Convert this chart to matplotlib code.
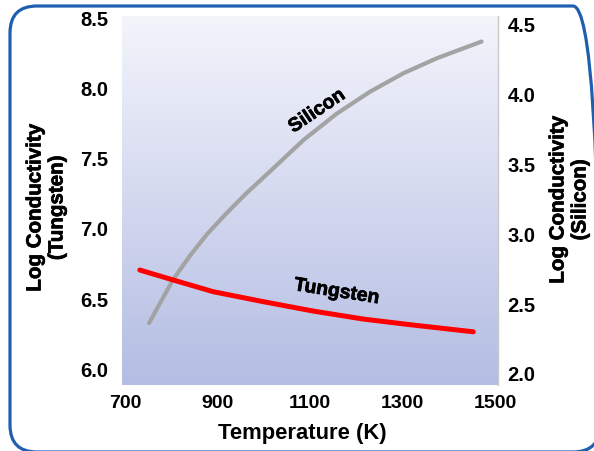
import matplotlib.pyplot as plt
import matplotlib.patheffects as pe
import numpy as np
from matplotlib.patches import FancyBboxPatch
from matplotlib.transforms import IdentityTransform

plt.rcParams["font.family"] = ["Liberation Sans", "DejaVu Sans"]
plt.rcParams["font.weight"] = "bold"

# 读图估计的数据
si_temp = [752, 776, 804, 840, 877, 920, 963, 1013, 1085, 1158, 1230, 1302, 1374, 1471]
si_logc = [2.364, 2.509, 2.676, 2.845, 3.000, 3.153, 3.296, 3.449, 3.673, 3.865,
           4.022, 4.154, 4.261, 4.381]
w_temp = [732, 804, 891, 999, 1107, 1215, 1323, 1453]
w_logc = [6.707, 6.636, 6.552, 6.481, 6.414, 6.357, 6.314, 6.266]

x_ticks = [700, 900, 1100, 1300, 1500]
left_ticks = [6.0, 6.5, 7.0, 7.5, 8.0, 8.5]
right_ticks = [2.0, 2.5, 3.0, 3.5, 4.0, 4.5]

W, H = 594, 451
fig = plt.figure(figsize=(W / 100, H / 100), dpi=100)
fig.patch.set_facecolor("white")

# 圆角边框
frame = FancyBboxPatch((10, H - 452), 590, 446,
                       boxstyle="round,pad=0,rounding_size=27",
                       transform=IdentityTransform(),
                       facecolor="none", edgecolor="#1f5fb0", linewidth=2.3)
fig.add_artist(frame)

ax = fig.add_axes([122 / W, (H - 385) / H, 376 / W, 369 / H])
ax2 = ax.twinx()

# 渐变背景
c_top = np.array([0.955, 0.960, 0.985])
c_bot = np.array([0.705, 0.740, 0.890])
t = np.linspace(0, 1, 256)[:, None]
grad = (c_top * (1 - t) + c_bot * t)[:, None, :]
ax.imshow(grad, extent=[0, 1, 0, 1], transform=ax.transAxes,
          aspect="auto", zorder=0, interpolation="bilinear")

ax.set_xlim(693.5, 1506.5)
ax.set_ylim(5.886, 8.521)

ax2.plot(si_temp, si_logc, color="#a3a3a3", linewidth=3.0,
         solid_capstyle="round", solid_joinstyle="round", zorder=3)
# 钨曲线画在上层, 用左轴坐标
ax2.plot(w_temp, w_logc, color="#ff0000", linewidth=3.6,
         solid_capstyle="round", solid_joinstyle="round",
         transform=ax.transData, zorder=4)
ax2.set_ylim(1.921, 4.564)

heavy = [pe.withStroke(linewidth=0.5, foreground="black")]

ax2.text(1116, 3.88, "Silicon", rotation=34, fontsize=14, fontweight="bold",
         ha="center", va="center", rotation_mode="anchor", zorder=5,
         path_effects=heavy)
ax2.text(1158, 6.548, "Tungsten", rotation=-9, fontsize=14, fontweight="bold",
         ha="center", va="center", rotation_mode="anchor",
         transform=ax.transData, zorder=5, path_effects=heavy)

ax.set_xticks(x_ticks)
ax.set_xticklabels([str(v) for v in x_ticks])
ax.set_yticks(left_ticks)
ax.set_yticklabels(["%.1f" % v for v in left_ticks])
ax2.set_yticks(right_ticks)
ax2.set_yticklabels(["%.1f" % v for v in right_ticks])

ax.tick_params(axis="x", length=0, pad=7.5, labelsize=14)
ax.tick_params(axis="y", length=0, pad=10, labelsize=14.5)
ax2.tick_params(axis="y", length=0, pad=7, labelsize=14.5)
for lab in ax.get_xticklabels() + ax.get_yticklabels() + ax2.get_yticklabels():
    lab.set_fontweight("bold")

for sp in ax.spines.values():
    sp.set_visible(False)
for name, sp in ax2.spines.items():
    sp.set_visible(name == "right")
ax2.spines["right"].set_color("#c9c9c9")
ax2.spines["right"].set_linewidth(1.0)

fig.text(46 / W, 1 - 208 / H, "Log Conductivity\n(Tungsten)", rotation=90,
         ha="center", va="center", multialignment="center",
         fontsize=14.8, fontweight="bold", linespacing=1.2, path_effects=heavy)
fig.text(569 / W, 1 - 200 / H, "Log Conductivity\n(Silicon)", rotation=90,
         ha="center", va="center", multialignment="center",
         fontsize=14.8, fontweight="bold", linespacing=1.2, path_effects=heavy)
fig.text(302 / W, 1 - 433 / H, "Temperature (K)", ha="center", va="center",
         fontsize=15.8, fontweight="bold")

fig.savefig("out.png", dpi=100)
